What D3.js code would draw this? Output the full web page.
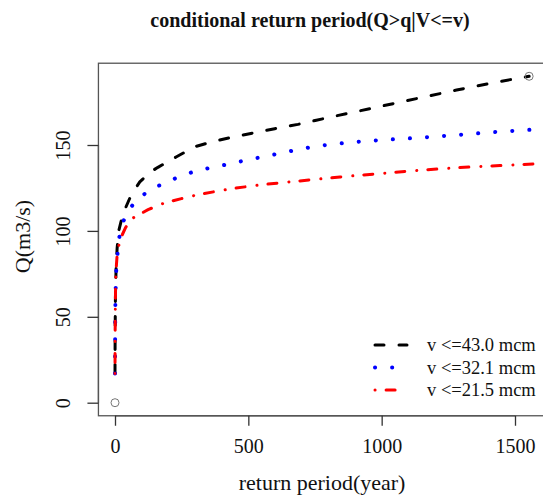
<!DOCTYPE html>
<html>
<head>
<meta charset="utf-8">
<script src="https://cdn.jsdelivr.net/npm/d3@7"></script>
<style>
  body { margin: 0; background: #fff; }
  text { font-family: "Liberation Serif", "Times New Roman", serif; fill: #111; }
</style>
</head>
<body>
<div id="chart"></div>
<script>
// Series: return period (year) and Q (m3/s)
const labels = ["v <=43.0 mcm", "v <=32.1 mcm", "v <=21.5 mcm"];

const period43 = [0, 0.5, 1.5, 4, 8, 14, 30, 61, 93, 130, 161, 229, 299, 367, 443, 518, 599, 686, 755, 831, 981, 1131, 1281, 1431, 1553];
const q43 = [17, 40, 60, 78, 90, 100, 110, 121, 128.5, 134, 137, 143, 149, 152, 154.7, 157, 159.5, 162, 164.4, 167, 172, 177, 182, 186.6, 190];

const period32 = [0, 0.5, 1.5, 4, 7.5, 13, 21, 42, 80, 130, 190, 249, 311, 374, 436, 501, 565, 630, 692, 756, 887, 1019, 1150, 1279, 1409, 1540, 1700];
const q32 = [17, 40, 60, 75, 83, 93, 101, 110, 118, 123.7, 128.3, 132, 135.3, 137.2, 139.2, 141.5, 143.4, 145.6, 147.5, 149.4, 151.6, 153.1, 154.3, 155.8, 157.4, 158.7, 160];

const period21 = [0, 0.5, 1.5, 3, 8, 15, 25, 40, 61, 124, 186, 249, 311, 436, 561, 686, 844, 994, 1144, 1294, 1444, 1605, 1700];
const q21 = [17, 40, 60, 75, 86, 92, 97, 102, 107, 112.4, 116.3, 118.8, 121.1, 124.6, 127.1, 129, 131.4, 133.4, 135.3, 136.9, 138, 139.2, 139.8];

// range points drawn as open circles
const rangePeriod = [0, 1553];
const rangeQ = [0, 190];

const xTicks = [0, 500, 1000, 1500];
const yTicks = [0, 50, 100, 150];

const width = 543, height = 497;

const xScale = d3.scaleLinear().domain([0, 1500]).range([115, 515]);
const yScale = d3.scaleLinear().domain([0, 150]).range([402.7, 145]);

// R style 4% extension of the data range
const xPad = 0.04 * 1553, yPad = 0.04 * 190;
const box = {
  left: xScale(-xPad), right: xScale(1553 + xPad),
  top: yScale(190 + yPad), bottom: yScale(-yPad)
};

const svg = d3.select("#chart").append("svg")
  .attr("width", width).attr("height", height);

svg.append("defs").append("clipPath").attr("id", "plotclip")
  .append("rect")
  .attr("x", box.left).attr("y", box.top)
  .attr("width", box.right - box.left).attr("height", box.bottom - box.top);

// Title
svg.append("text")
  .attr("x", 310).attr("y", 27)
  .attr("text-anchor", "middle")
  .style("font-weight", "bold").style("font-size", "20px")
  .text("conditional return period(Q>q|V<=v)");

// Series
const series = [
  { t: period43, q: q43, color: "#000", width: 3, dash: "9,15", label: labels[0] },
  { t: period32, q: q32, color: "#0000ff", width: 4, dash: "0.1,17", label: labels[1] },
  { t: period21, q: q21, color: "#ff0000", width: 3, dash: "0.1,11,9,12", label: labels[2] }
];

const line = d3.line()
  .x(d => xScale(d[0]))
  .y(d => yScale(d[1]));

const plot = svg.append("g").attr("clip-path", "url(#plotclip)");

series.forEach(s => {
  plot.append("path")
    .datum(d3.zip(s.t, s.q))
    .attr("d", line)
    .attr("fill", "none")
    .attr("stroke", s.color)
    .attr("stroke-width", s.width)
    .attr("stroke-dasharray", s.dash)
    .attr("stroke-linecap", "round")
    .attr("stroke-linejoin", "round");
});

plot.selectAll(".rangept")
  .data(d3.zip(rangePeriod, rangeQ))
  .enter().append("circle")
  .attr("class", "rangept")
  .attr("cx", d => xScale(d[0]))
  .attr("cy", d => yScale(d[1]))
  .attr("r", 4)
  .attr("fill", "none")
  .attr("stroke", "#777")
  .attr("stroke-width", 1);

// Box
svg.append("rect")
  .attr("x", box.left).attr("y", box.top)
  .attr("width", box.right - box.left).attr("height", box.bottom - box.top)
  .attr("fill", "none").attr("stroke", "#555").attr("stroke-width", 1.3);

// X axis
const xAxis = d3.axisBottom(xScale).tickValues(xTicks).tickSize(10).tickPadding(0)
  .tickFormat(d3.format("d"));
const gx = svg.append("g")
  .attr("transform", `translate(0,${box.bottom})`)
  .call(xAxis);
gx.select(".domain").attr("stroke", "#555").attr("stroke-width", 1.3)
  .attr("d", `M${xScale(0)},0H${xScale(1500)}`);
gx.selectAll(".tick line").attr("stroke", "#333").attr("stroke-width", 1.3);
gx.selectAll(".tick text")
  .attr("y", 37).attr("dy", null)
  .style("font-family", "'Liberation Serif', serif").style("font-size", "20px").attr("fill", "#111");

// Y axis (labels rotated as R does by default)
const yAxis = d3.axisLeft(yScale).tickValues(yTicks).tickSize(11).tickPadding(0)
  .tickFormat(d3.format("d"));
const gy = svg.append("g")
  .attr("transform", `translate(${box.left},0)`)
  .call(yAxis);
gy.select(".domain").attr("stroke", "#555").attr("stroke-width", 1.3)
  .attr("d", `M0,${yScale(0)}V${yScale(150)}`);
gy.selectAll(".tick line").attr("stroke", "#333").attr("stroke-width", 1.3);
gy.selectAll(".tick text")
  .attr("x", 0).attr("dy", null)
  .attr("transform", "translate(-35,0) rotate(-90)")
  .attr("text-anchor", "middle")
  .attr("dominant-baseline", "central")
  .style("font-family", "'Liberation Serif', serif").style("font-size", "20px").attr("fill", "#111");

// Axis titles
svg.append("text")
  .attr("x", (box.left + box.right) / 2).attr("y", 490)
  .attr("text-anchor", "middle").style("font-size", "22px")
  .text("return period(year)");

svg.append("text")
  .attr("transform", `translate(22,${(box.top + box.bottom) / 2 - 3}) rotate(-90)`)
  .attr("text-anchor", "middle").attr("dominant-baseline", "central")
  .style("font-size", "22px")
  .text("Q(m3/s)");

// Legend (no frame)
const legend = svg.append("g").attr("transform", "translate(375,345)");
series.forEach((s, i) => {
  const row = legend.append("g").attr("transform", `translate(0,${i * 22.5})`);
  row.append("line")
    .attr("x1", 0).attr("x2", 32).attr("y1", 0).attr("y2", 0)
    .attr("stroke", s.color).attr("stroke-width", s.width)
    .attr("stroke-dasharray", s.dash).attr("stroke-linecap", "round");
  row.append("text")
    .attr("x", 52).attr("y", 0).attr("dominant-baseline", "central")
    .style("font-size", "18.5px")
    .text(s.label);
});
</script>
</body>
</html>
